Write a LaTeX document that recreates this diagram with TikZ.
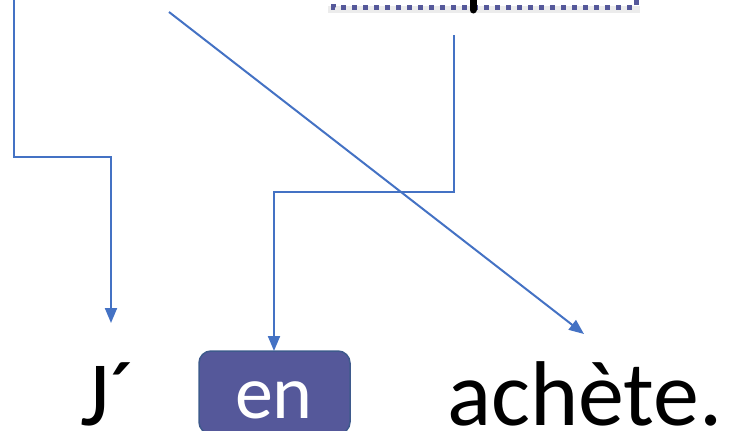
\documentclass[tikz,border=0pt]{standalone}
\usepackage{fontspec}
\setmainfont{Carlito}
\usetikzlibrary{arrows.meta}
\definecolor{linkblue}{HTML}{4472C4}
\definecolor{boxfill}{HTML}{55589A}
\definecolor{boxedge}{HTML}{3E5A8C}
\tikzset{
  link/.style={draw=linkblue, line width=2pt, -{Triangle[length=15pt,width=12pt]}},
  word/.style={inner sep=0pt, anchor=base west, font=\fontsize{92}{100}\selectfont},
  pronbox/.style={draw=boxedge, line width=1.5pt, fill=boxfill, rounded corners=12pt},
}
\begin{document}
\begin{tikzpicture}[x=1pt, y=-1pt]
  \useasboundingbox (0,0) rectangle (740,431);
  \begin{scope}
    \clip (0,0) rectangle (740,431);
    % dotted frame above, only its lower edge shows
    \fill[gray!25, opacity=0.6] (328,6) rectangle (640,13);
    \draw[boxfill, line width=5pt, dash pattern=on 5pt off 6pt]
      (333,-40) -- (333,7) -- (636,7) -- (636,-40);
    \draw[black, line width=7pt, line cap=round] (473,-5) -- (473,10);
    % pronoun box
    \draw[pronbox] (199,351) rectangle (350,434);
  \end{scope}

  % words
  \node[word] (j) at (80,425) {J´};
  \node[word] (achete) at (447,425) {achète.};
  \node[inner sep=0pt, anchor=base, text=white, font=\fontsize{76}{80}\selectfont]
    (en) at (274,418) {en};
  \coordinate (enTop) at (274,351);

  % connector ends
  \coordinate (a0) at (14,0);
  \coordinate (a1) at (14,157);
  \coordinate (a2) at (111,157);
  \coordinate (aEnd) at (111,323);
  \coordinate (b0) at (169,12);
  \coordinate (bEnd) at (584,334);
  \coordinate (c0) at (454,35);
  \coordinate (c1) at (454,192);
  \coordinate (c2) at (274,192);

  \draw[link] (a0) -- (a1) -- (a2) -- (aEnd);
  \draw[link] (b0) -- (bEnd);
  \draw[link] (c0) -- (c1) -- (c2) -- (enTop);
\end{tikzpicture}
\end{document}
